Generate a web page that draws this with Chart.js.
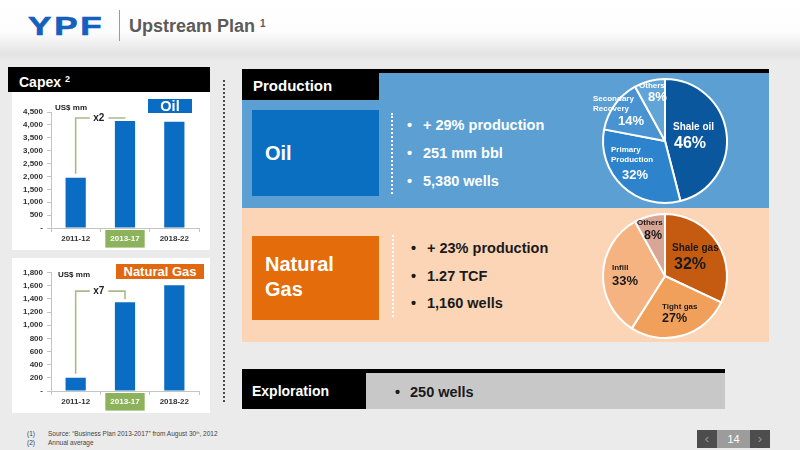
<!DOCTYPE html>
<html>
<head>
<meta charset="utf-8">
<script src="https://cdn.jsdelivr.net/npm/chart.js@4/dist/chart.umd.min.js"></script>
<style>
  body { margin: 0; width: 800px; height: 450px; background: #ebebeb; position: relative; overflow: hidden;
         font-family: "Liberation Sans", Arial, sans-serif; font-weight: bold; }
  .a { position: absolute; white-space: nowrap; }
  .box { position: absolute; }
  .wrap { position: absolute; }
  sup { font-size: 60%; vertical-align: 0; position: relative; top: -0.55em; }
</style>
</head>
<body>

<!-- header -->
<div class="box" style="left:0;top:0;width:800px;height:62px;background:linear-gradient(#fff 0px,#fdfdfd 32px,#e3e3e3 54px,#ebebeb 62px)"></div>
<div class="a" style="left:28px;top:14px;font-size:25px;line-height:25px;color:#1560bd;letter-spacing:2px;transform:scaleX(1.4);transform-origin:left;-webkit-text-stroke:0.6px #1560bd">YPF</div>
<div class="box" style="left:119px;top:10px;width:1px;height:31px;background:#9a9a9a"></div>
<div class="a" style="left:129px;top:16px;font-size:18px;line-height:20px;color:#5b5b5b">Upstream Plan <sup style="font-size:10px">1</sup></div>

<!-- capex side -->
<div class="box" style="left:8px;top:67px;width:202px;height:25px;background:#000"></div>
<div class="a" style="left:19px;top:70px;font-size:14px;line-height:24px;color:#fff">Capex <sup style="font-size:9px">2</sup></div>

<div class="box" style="left:12px;top:92px;width:198px;height:158px;background:#fff"></div>
<div class="box" style="left:12px;top:258px;width:198px;height:155px;background:#fff"></div>
<div class="wrap" style="left:12px;top:92px;width:198px;height:158px"><canvas id="oilCapex"></canvas></div>
<div class="wrap" style="left:12px;top:258px;width:198px;height:155px"><canvas id="gasCapex"></canvas></div>

<div class="a" style="left:55px;top:103px;font-size:8px;line-height:10px;color:#222">US$ mm</div>
<div class="a" style="left:58px;top:270px;font-size:8px;line-height:10px;color:#222">US$ mm</div>
<div class="box" style="left:148px;top:99px;width:44px;height:14px;background:#0b6cc3;color:#fff;font-size:14.5px;line-height:15px;text-align:center">Oil</div>
<div class="box" style="left:116px;top:264px;width:88px;height:15px;background:#e2680f;color:#fff;font-size:13px;line-height:16px;text-align:center">Natural Gas</div>

<div class="box" style="left:223px;top:80px;height:322px;border-left:2px dotted #4a4a4a"></div>

<!-- production -->
<div class="box" style="left:242px;top:73px;width:527px;height:135px;background:#5b9fd3"></div>
<div class="box" style="left:242px;top:208px;width:527px;height:134px;background:#fbd5b5"></div>
<div class="box" style="left:242px;top:69px;width:527px;height:4px;background:#000"></div>
<div class="box" style="left:242px;top:69px;width:137px;height:31px;background:#000"></div>
<div class="a" style="left:253px;top:76px;font-size:15px;line-height:20px;color:#fff">Production</div>

<div class="box" style="left:252px;top:110px;width:127px;height:86px;background:#0b6fc1"></div>
<div class="a" style="left:265px;top:141px;font-size:20px;line-height:24px;color:#fff">Oil</div>
<div class="box" style="left:391px;top:113px;height:81px;border-left:2px dotted #fff"></div>
<div class="a" style="left:407px;top:115px;font-size:14.5px;line-height:20px;color:#fff">•</div>
<div class="a" style="left:423px;top:115px;font-size:14.5px;line-height:20px;color:#fff">+ 29% production</div>
<div class="a" style="left:407px;top:143px;font-size:14.5px;line-height:20px;color:#fff">•</div>
<div class="a" style="left:423px;top:143px;font-size:14.5px;line-height:20px;color:#fff">251 mm bbl</div>
<div class="a" style="left:407px;top:171px;font-size:14.5px;line-height:20px;color:#fff">•</div>
<div class="a" style="left:423px;top:171px;font-size:14.5px;line-height:20px;color:#fff">5,380 wells</div>

<div class="box" style="left:252px;top:236px;width:127px;height:84px;background:#e46c0a"></div>
<div class="a" style="left:265px;top:252px;font-size:20px;line-height:25px;color:#fff">Natural<br>Gas</div>
<div class="box" style="left:392px;top:235px;height:82px;border-left:2px dotted #fff"></div>
<div class="a" style="left:411px;top:238px;font-size:14.5px;line-height:20px;color:#1a1a1a">•</div>
<div class="a" style="left:427px;top:238px;font-size:14.5px;line-height:20px;color:#1a1a1a">+ 23% production</div>
<div class="a" style="left:411px;top:266px;font-size:14.5px;line-height:20px;color:#1a1a1a">•</div>
<div class="a" style="left:427px;top:266px;font-size:14.5px;line-height:20px;color:#1a1a1a">1.27 TCF</div>
<div class="a" style="left:411px;top:293px;font-size:14.5px;line-height:20px;color:#1a1a1a">•</div>
<div class="a" style="left:427px;top:293px;font-size:14.5px;line-height:20px;color:#1a1a1a">1,160 wells</div>

<div class="wrap" style="left:570px;top:71px;width:190px;height:140px"><canvas id="oilPie"></canvas></div>
<div class="wrap" style="left:570px;top:206px;width:190px;height:140px"><canvas id="gasPie"></canvas></div>

<!-- exploration -->
<div class="box" style="left:366px;top:373px;width:359px;height:36px;background:#c8c8c8"></div>
<div class="box" style="left:242px;top:369px;width:483px;height:4px;background:#000"></div>
<div class="box" style="left:242px;top:369px;width:124px;height:40px;background:#000"></div>
<div class="a" style="left:252px;top:381px;font-size:14px;line-height:20px;color:#fff">Exploration</div>
<div class="a" style="left:395px;top:382px;font-size:14.5px;line-height:20px;color:#1a1a1a">•</div>
<div class="a" style="left:410px;top:382px;font-size:14.5px;line-height:20px;color:#1a1a1a">250 wells</div>

<!-- footer -->
<div class="a" style="left:27px;top:429px;font-size:6.5px;line-height:9px;color:#444;font-weight:normal">(1)</div>
<div class="a" style="left:48px;top:429px;font-size:6.5px;line-height:9px;color:#444;font-weight:normal">Source: “Business Plan 2013-2017” from August 30<sup style="font-size:4px">th</sup>, 2012</div>
<div class="a" style="left:27px;top:438px;font-size:6.5px;line-height:9px;color:#444;font-weight:normal">(2)</div>
<div class="a" style="left:48px;top:438px;font-size:6.5px;line-height:9px;color:#444;font-weight:normal">Annual average</div>

<div class="box" style="left:697px;top:430px;width:20px;height:18px;background:#4d4d4d;color:#999;font-size:13px;line-height:18px;text-align:center;font-weight:normal">&lsaquo;</div>
<div class="box" style="left:717px;top:430px;width:33px;height:18px;background:#9c9c9c;color:#fff;font-size:11px;line-height:18px;text-align:center;font-weight:normal">14</div>
<div class="box" style="left:750px;top:430px;width:20px;height:18px;background:#4d4d4d;color:#999;font-size:13px;line-height:18px;text-align:center;font-weight:normal">&rsaquo;</div>

<script>
// ==================== DATA ====================
const periods = ["2011-12", "2013-17", "2018-22"];
const oilCapex = [1950, 4150, 4120];
const gasCapex = [200, 1350, 1610];
const oilTicks = [0, 500, 1000, 1500, 2000, 2500, 3000, 3500, 4000, 4500];
const gasTicks = [0, 200, 400, 600, 800, 1000, 1200, 1400, 1600, 1800];

const oilMix = [["Shale oil"], ["Primary", "Production"], ["Secondary", "Recovery"], ["Others"]];
const oilShare = [46, 32, 14, 8];
const gasMix = [["Shale gas"], ["Tight gas"], ["Infill"], ["Others"]];
const gasShare = [32, 27, 33, 8];

const FONT = '"Liberation Sans", Arial, sans-serif';
Chart.defaults.font.family = FONT;

// ==================== BRACKET (x2 / x7) ====================
const bracketPlugin = {
  id: "bracket",
  afterDatasetsDraw(chart, args, opts) {
    const ctx = chart.ctx;
    const [a, b] = chart.getDatasetMeta(0).data;
    const top = chart.scales.y.getPixelForValue(opts.level);
    const mid = (a.x + b.x) / 2 - 2;
    ctx.save();
    ctx.strokeStyle = "#a9bb8b";
    ctx.lineWidth = 1.6;
    ctx.beginPath();
    ctx.moveTo(a.x, a.y - 4);
    ctx.lineTo(a.x, top);
    ctx.lineTo(mid - 8.5, top);
    ctx.moveTo(mid + 10, top);
    ctx.lineTo(b.x, top);
    if (b.y - 3 > top) ctx.lineTo(b.x, b.y - 3);
    ctx.stroke();
    ctx.fillStyle = "#222";
    ctx.font = "bold 10px " + FONT;
    ctx.textAlign = "center";
    ctx.textBaseline = "middle";
    ctx.fillText(opts.text, mid + 0.5, top);
    ctx.restore();
  }
};

function capexChart(id, values, ticks, padTop, bracket) {
  new Chart(document.getElementById(id), {
    type: "bar",
    data: {
      labels: periods,
      datasets: [{ data: values, backgroundColor: "#0b6cc3", barPercentage: 0.41, categoryPercentage: 1 }]
    },
    options: {
      responsive: true,
      maintainAspectRatio: false,
      animation: false,
      events: [],
      layout: { padding: { top: padTop, right: 11, left: 0, bottom: 0 } },
      plugins: { legend: { display: false }, tooltip: { enabled: false }, bracket },
      scales: {
        x: {
          afterFit: s => { s.height = 22; },
          border: { color: "#c4c4c4" },
          grid: { drawOnChartArea: false, tickLength: 4, color: "#c4c4c4" },
          ticks: {
            padding: 2,
            font: { size: 8, weight: "bold" },
            color: c => c.index === 1 ? "#fff" : "#333",
            showLabelBackdrop: c => c.index === 1,
            backdropColor: "#8cb35c",
            backdropPadding: { x: 5, y: 4 }
          }
        },
        y: {
          min: ticks[0],
          max: ticks[ticks.length - 1],
          afterFit: s => { s.width = 39; },
          afterBuildTicks: s => { s.ticks = ticks.map(v => ({ value: v })); },
          border: { color: "#c4c4c4" },
          grid: { drawOnChartArea: false, tickLength: 4, color: "#c4c4c4" },
          ticks: {
            padding: 4,
            font: { size: 8, weight: "bold" },
            color: "#333",
            callback: v => v === 0 ? "-" : v.toLocaleString("en-US")
          }
        }
      }
    },
    plugins: [bracketPlugin]
  });
}

capexChart("oilCapex", oilCapex, oilTicks, 20, { text: "x2", level: 4270 });
capexChart("gasCapex", gasCapex, gasTicks, 14.7, { text: "x7", level: 1520 });

// ==================== PIE LABELS ====================
const pieText = {
  id: "pieText",
  afterDatasetsDraw(chart, args, opts) {
    const ctx = chart.ctx;
    const arcs = chart.getDatasetMeta(0).data;
    const cx = arcs[0].x, cy = arcs[0].y;
    const values = chart.data.datasets[0].data;
    ctx.save();
    ctx.fillStyle = opts.color;
    ctx.textAlign = "left";
    ctx.textBaseline = "middle";
    opts.items.forEach((it, i) => {
      ctx.font = `bold ${it.ns}px ${FONT}`;
      chart.data.labels[i].forEach((line, k) => ctx.fillText(line, cx + it.nx, cy + it.ny + k * 10));
      ctx.font = `bold ${it.vs}px ${FONT}`;
      ctx.fillText(values[i] + "%", cx + it.vx, cy + it.vy);
    });
    ctx.restore();
  }
};

function mixPie(id, labels, values, colors, textColor, items) {
  new Chart(document.getElementById(id), {
    type: "pie",
    data: {
      labels,
      datasets: [{ data: values, backgroundColor: colors, borderColor: "#fff", borderWidth: 2, radius: 62, hoverOffset: 0 }]
    },
    options: {
      responsive: true,
      maintainAspectRatio: false,
      animation: false,
      events: [],
      plugins: { legend: { display: false }, tooltip: { enabled: false }, pieText: { color: textColor, items } }
    },
    plugins: [pieText]
  });
}

mixPie("oilPie", oilMix, oilShare, ["#0b579e", "#2d84cc", "#4a93d2", "#61a4d8"], "#fff", [
  { nx: 8, ny: -14, ns: 10, vx: 9, vy: 3, vs: 16 },
  { nx: -54, ny: 8.5, ns: 8, vx: -43, vy: 34.5, vs: 13 },
  { nx: -72, ny: -42, ns: 8, vx: -47, vy: -20, vs: 13 },
  { nx: -26, ny: -55, ns: 8, vx: -17, vy: -43.5, vs: 13 }
]);

mixPie("gasPie", gasMix, gasShare, ["#c55a11", "#f0a05a", "#f4b380", "#d9a594"], "#1a1a1a", [
  { nx: 7, ny: -28, ns: 10, vx: 9, vy: -11, vs: 16 },
  { nx: -3, ny: 31, ns: 8, vx: -3, vy: 43, vs: 12.5 },
  { nx: -53, ny: -8, ns: 8, vx: -53, vy: 5, vs: 13 },
  { nx: -28, ny: -53, ns: 8, vx: -21, vy: -40, vs: 12.5 }
]);
</script>
</body>
</html>
